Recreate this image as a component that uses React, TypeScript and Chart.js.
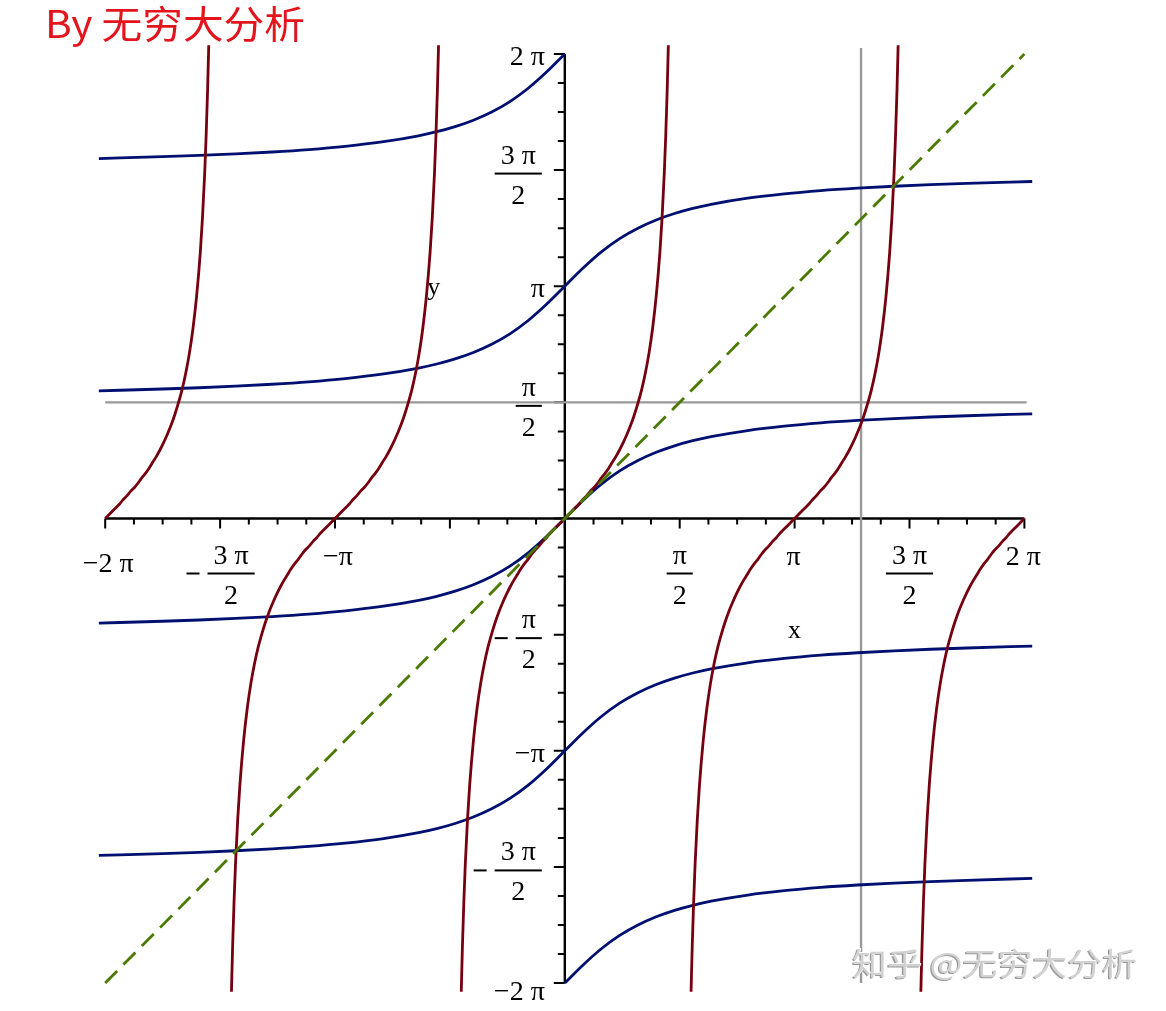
import React, { useEffect, useRef } from "react";
import { Chart, registerables } from "chart.js";

Chart.register(...registerables);

const PI = Math.PI;

// ---- data ----
// one branch of the dark-red curve (y = tan x), repeated every π along x
const redShapeX = [-1.42, -1.4, -1.38, -1.36, -1.33, -1.3, -1.25, -1.2, -1.15, -1.1, -1.05, -1.0, -0.95, -0.9, -0.85, -0.8, -0.75, -0.7, -0.65, -0.6, -0.55, -0.5, -0.45, -0.4, -0.35, -0.3, -0.25, -0.2, -0.15, -0.1, -0.05, 0, 0.05, 0.1, 0.15, 0.2, 0.25, 0.3, 0.35, 0.4, 0.45, 0.5, 0.55, 0.6, 0.65, 0.7, 0.75, 0.8, 0.85, 0.9, 0.95, 1.0, 1.05, 1.1, 1.15, 1.2, 1.25, 1.3, 1.33, 1.36, 1.38, 1.4, 1.42];
const redShapeY = [-6.58, -5.8, -5.18, -4.67, -4.07, -3.6, -3.01, -2.57, -2.23, -1.96, -1.74, -1.56, -1.4, -1.26, -1.14, -1.03, -0.93, -0.84, -0.76, -0.68, -0.61, -0.55, -0.48, -0.42, -0.37, -0.31, -0.26, -0.2, -0.15, -0.1, -0.05, 0, 0.05, 0.1, 0.15, 0.2, 0.26, 0.31, 0.37, 0.42, 0.48, 0.55, 0.61, 0.68, 0.76, 0.84, 0.93, 1.03, 1.14, 1.26, 1.4, 1.56, 1.74, 1.96, 2.23, 2.57, 3.01, 3.6, 4.07, 4.67, 5.18, 5.8, 6.58];
const redBranchShifts = [-2 * PI, -PI, 0, PI, 2 * PI];

// one branch of the navy curve (y = arctan x), repeated every π along y
const blueShapeX = [-6.37, -5.5, -5, -4.5, -4, -3.5, -3, -2.5, -2, -1.75, -1.5, -1.25, -1, -0.75, -0.5, -0.25, 0, 0.25, 0.5, 0.75, 1, 1.25, 1.5, 1.75, 2, 2.5, 3, 3.5, 4, 4.5, 5, 5.5, 6.39];
const blueShapeY = [-1.415, -1.39, -1.373, -1.352, -1.326, -1.293, -1.249, -1.19, -1.107, -1.052, -0.983, -0.896, -0.785, -0.644, -0.464, -0.245, 0, 0.245, 0.464, 0.644, 0.785, 0.896, 0.983, 1.052, 1.107, 1.19, 1.249, 1.293, 1.326, 1.352, 1.373, 1.39, 1.416];
const blueBranchShifts = [-2 * PI, -PI, 0, PI, 2 * PI];

// dashed diagonal y = x
const diagX = [-2 * PI, 2 * PI];
const diagY = [-2 * PI, 2 * PI];

// grey guide lines
const hGuideY = PI / 2;
const hGuideX = [-2 * PI, 2 * PI + 0.03];
const vGuideX = 4.05;
const vGuideY = [-2 * PI, 2 * PI + 0.08];

// tick labels
const xTickValues = [-2 * PI, -1.5 * PI, -PI, 0.5 * PI, PI, 1.5 * PI, 2 * PI];
const xTickLabels = ["−2 π", "−3 π/2", "−π", "π/2", "π", "3 π/2", "2 π"];
const yTickValues = [2 * PI, 1.5 * PI, PI, 0.5 * PI, -0.5 * PI, -PI, -1.5 * PI, -2 * PI];
const yTickLabels = ["2 π", "3 π/2", "π", "π/2", "−π/2", "−π", "−3 π/2", "−2 π"];

const titleText = "By 无穷大分析";
const watermarkText = "知乎 @无穷大分析";

const RED = "#75000F";
const BLUE = "#001070";
const GREEN = "#4A7A00";
const GRAY = "#999999";

const LABEL_FONT = "28px 'Liberation Serif', 'DejaVu Serif', serif";

function drawFraction(ctx: CanvasRenderingContext2D, num: string, den: string, cx: number, by: number, neg: boolean) {
  const nw = ctx.measureText(num).width;
  const dw = ctx.measureText(den).width;
  const barW = Math.max(nw, dw) + 12;
  ctx.textAlign = "center";
  ctx.fillText(num, cx, by - 10);
  ctx.fillText(den, cx, by + 30);
  ctx.fillRect(cx - barW / 2, by - 1, barW, 2);
  if (neg) {
    const mx = cx - barW / 2 - 8 - 13;
    ctx.fillRect(mx, by - 1, 13, 2);
  }
  return barW;
}

const axesPlugin = {
  id: "mapleAxes",
  beforeDatasetsDraw(chart: any) {
    const ctx: CanvasRenderingContext2D = chart.ctx;
    const xs = chart.scales.x;
    const ys = chart.scales.y;
    const ax = xs.getPixelForValue(0);
    const ay = ys.getPixelForValue(0);
    ctx.save();
    ctx.strokeStyle = "#000";
    ctx.fillStyle = "#000";
    ctx.lineWidth = 2.4;
    // axis lines
    ctx.beginPath();
    ctx.moveTo(xs.getPixelForValue(-2 * PI), ay);
    ctx.lineTo(xs.getPixelForValue(2 * PI), ay);
    ctx.moveTo(ax, ys.getPixelForValue(2 * PI));
    ctx.lineTo(ax, ys.getPixelForValue(-2 * PI));
    ctx.stroke();
    // ticks every π/8, major every π/2
    ctx.lineWidth = 2;
    ctx.beginPath();
    for (let i = -16; i <= 16; i++) {
      const v = (i * PI) / 8;
      const major = i % 4 === 0;
      const px = xs.getPixelForValue(v);
      ctx.moveTo(px, ay);
      ctx.lineTo(px, ay + (major ? 10 : 6));
      const py = ys.getPixelForValue(v);
      ctx.moveTo(ax, py);
      ctx.lineTo(ax - (major ? 11 : 7), py);
    }
    ctx.stroke();

    ctx.font = LABEL_FONT;
    ctx.textBaseline = "alphabetic";
    // x tick labels
    xTickValues.forEach((v, i) => {
      const label = xTickLabels[i];
      const px = xs.getPixelForValue(v);
      const neg = label.startsWith("−");
      const body = neg ? label.slice(1) : label;
      if (body.includes("/")) {
        const [num, den] = body.split("/");
        drawFraction(ctx, num, den, px + (neg ? 11 : 0), ay + 55, neg);
      } else {
        ctx.textAlign = "center";
        const low = Math.abs(v + 2 * PI) < 1e-6;
        ctx.fillText(label, px + (neg ? 3 : -1), ay + (low ? 53 : 46));
      }
    });
    // y tick labels
    yTickValues.forEach((v, i) => {
      const label = yTickLabels[i];
      const py = ys.getPixelForValue(v);
      const neg = label.startsWith("−");
      const body = neg ? label.slice(1) : label;
      if (body.includes("/")) {
        const [num, den] = body.split("/");
        const nw = ctx.measureText(num).width;
        const dw = ctx.measureText(den).width;
        const barW = Math.max(nw, dw) + 12;
        drawFraction(ctx, num, den, ax - 23 - barW / 2, py + 3.5, neg);
      } else {
        ctx.textAlign = "right";
        const bottom = Math.abs(v + 2 * PI) < 1e-6;
        ctx.fillText(label, ax - 20, py + (bottom ? 17 : 11));
      }
    });
    // axis titles
    ctx.font = "26px 'Liberation Serif', 'DejaVu Serif', serif";
    ctx.textAlign = "center";
    ctx.fillText("x", xs.getPixelForValue(PI), ay + 119);
    ctx.fillText("y", ax - 131, ys.getPixelForValue(PI) + 9);
    ctx.restore();
  },
  afterDraw(chart: any) {
    const ctx: CanvasRenderingContext2D = chart.ctx;
    ctx.save();
    // title
    ctx.font = "38px 'Noto Sans CJK SC', 'Noto Sans', sans-serif";
    ctx.textAlign = "left";
    ctx.textBaseline = "alphabetic";
    const tw = ctx.measureText(titleText).width;
    const ts = Math.min(1.15, Math.max(0.85, 260 / tw));
    ctx.translate(45, 38);
    ctx.scale(ts, 1);
    ctx.fillStyle = "#E3141B";
    ctx.fillText(titleText, 0, 0);
    ctx.restore();

    // watermark
    ctx.save();
    ctx.font = "31px 'Noto Sans CJK SC', 'Noto Sans', sans-serif";
    ctx.textAlign = "left";
    const ww = ctx.measureText(watermarkText).width;
    const wsc = Math.min(1.2, Math.max(0.85, 285 / ww));
    ctx.translate(852, 975);
    ctx.scale(wsc, 1);
    ctx.fillStyle = "#9a9a9a";
    ctx.fillText(watermarkText, -1.2, 1);
    ctx.fillStyle = "#ffffff";
    ctx.fillText(watermarkText, 1, -0.8);
    ctx.fillStyle = "#d2d2d2";
    ctx.fillText(watermarkText, 0, 0);
    ctx.restore();
  },
};

export default function App() {
  const canvasRef = useRef<HTMLCanvasElement | null>(null);

  useEffect(() => {
    if (!canvasRef.current) return;
    const base = { pointRadius: 0, fill: false, borderWidth: 2.8, cubicInterpolationMode: "monotone" as const };

    const redSets = redBranchShifts.map((s) => ({
      ...base,
      data: redShapeX
        .map((x, i) => ({ x: x + s, y: redShapeY[i] }))
        .filter((p) => p.x >= -2 * PI - 1e-9 && p.x <= 2 * PI + 1e-9),
      borderColor: RED,
      order: 2,
    }));
    const blueSets = blueBranchShifts.map((s) => ({
      ...base,
      data: blueShapeX
        .map((x, i) => ({ x, y: blueShapeY[i] + s }))
        .filter((p) => p.y >= -2 * PI - 1e-9 && p.y <= 2 * PI + 1e-9),
      borderColor: BLUE,
      order: 3,
    }));
    const diagSet = {
      ...base,
      data: diagX.map((x, i) => ({ x, y: diagY[i] })),
      borderColor: GREEN,
      borderDash: [17, 9],
      order: 1,
    };
    const hSet = {
      ...base,
      borderWidth: 2.4,
      data: hGuideX.map((x) => ({ x, y: hGuideY })),
      borderColor: GRAY,
      order: 5,
    };
    const vSet = {
      ...base,
      borderWidth: 2.4,
      data: vGuideY.map((y) => ({ x: vGuideX, y })),
      borderColor: GRAY,
      cubicInterpolationMode: "default" as const,
      order: 5,
    };

    const chart = new Chart(canvasRef.current, {
      type: "line",
      data: { datasets: [diagSet, ...redSets, ...blueSets, hSet, vSet] as any },
      options: {
        animation: false,
        responsive: false,
        devicePixelRatio: 1,
        events: [],
        parsing: true,
        layout: { padding: { left: 93, right: 129.4, top: 45.3, bottom: 19.3 } },
        plugins: { legend: { display: false }, tooltip: { enabled: false }, title: { display: false } },
        scales: {
          x: { type: "linear", min: -6.45, max: 6.45, display: false },
          y: { type: "linear", min: -6.4, max: 6.4, display: false },
        },
      },
      plugins: [axesPlugin],
    });
    return () => chart.destroy();
  }, []);

  return (
    <div style={{ position: "fixed", left: 0, top: 0, width: 1166, height: 1011, background: "#fff" }}>
      <canvas ref={canvasRef} width={1166} height={1011} style={{ display: "block", width: 1166, height: 1011 }} />
    </div>
  );
}
